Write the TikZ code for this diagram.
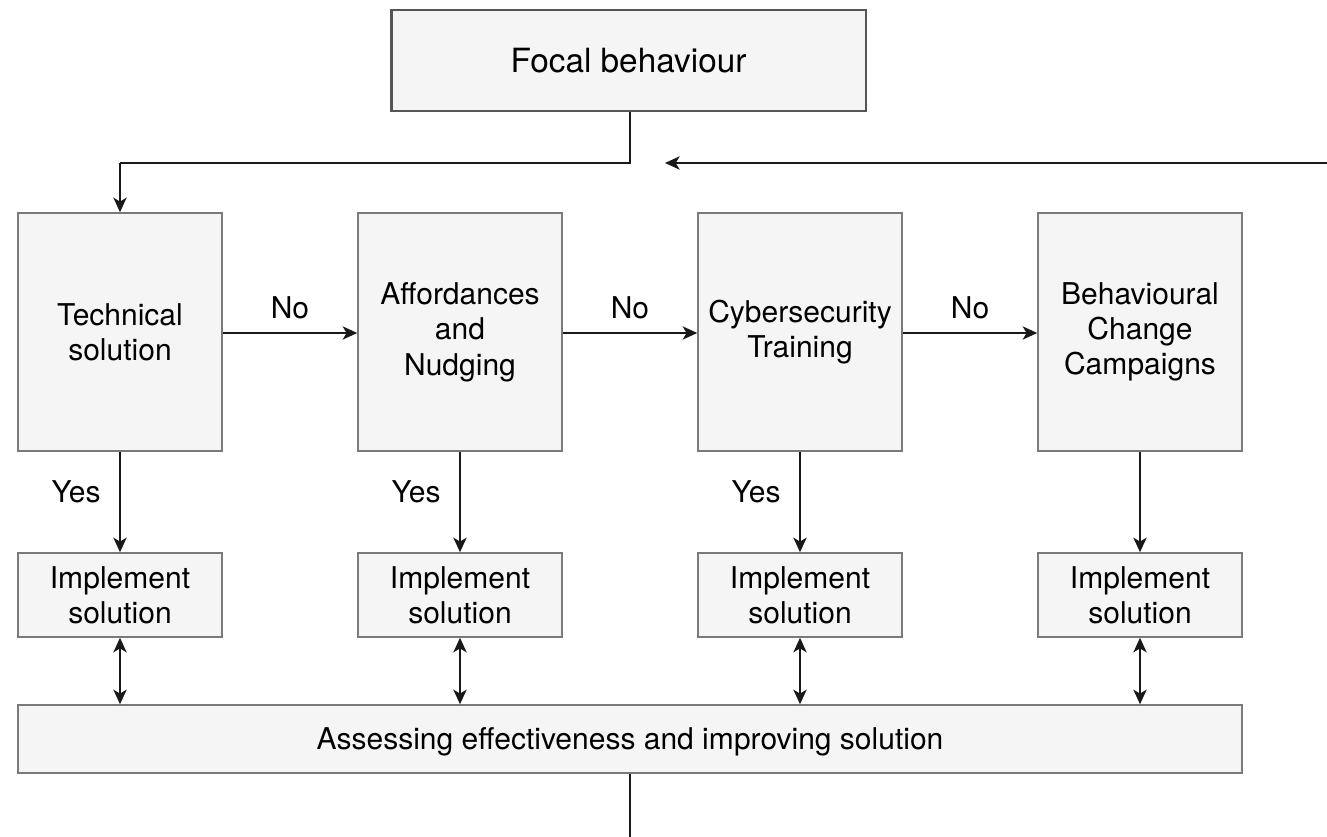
\documentclass[tikz,border=0pt]{standalone}
\usepackage{fontspec}
\setmainfont{TeX Gyre Heros}
\usetikzlibrary{arrows.meta}
\definecolor{boxfill}{HTML}{F5F5F5}
\definecolor{boxline}{HTML}{7A7A7A}
\definecolor{focline}{HTML}{555555}
\begin{document}
\begin{tikzpicture}[x=0.75pt,y=-0.75pt,
  box/.style={draw=boxline,fill=boxfill,line width=1.1pt,inner sep=0pt,align=center,
    text=black,font=\fontsize{22.5}{26.5}\selectfont},
  bigbox/.style={box,minimum width=153pt,minimum height=178.5pt},
  implbox/.style={box,minimum width=153pt,minimum height=63pt},
  conn/.style={line width=1.1pt,draw=black!90},
  tip/.tip={Stealth[length=11pt,width=10pt,inset=3pt]},
  arr/.style={conn,-tip},
  darr/.style={conn,tip-tip},
  lbl/.style={font=\fontsize{22.5}{26.5}\selectfont,inner sep=0pt,text=black}]
\useasboundingbox (0,0) rectangle (1327,837);
\node[box,draw=focline,line width=2pt,minimum width=356pt,minimum height=75.75pt,
  text height=18pt,text depth=0pt,
  font=\fontsize{25}{30}\selectfont] (focal) at (628.5,60.5) {Focal behaviour};

\node[bigbox] (tech) at (120,332) {Technical\\solution};
\node[bigbox] (aff) at (460,332) {Affordances\\and\\Nudging};
\node[bigbox] (cyb) at (800,332) {Cybersecurity\\Training};
\node[bigbox] (beh) at (1140,332) {Behavioural\\Change\\Campaigns};

\node[implbox] (i1) at (120,595) {Implement\\solution};
\node[implbox] (i2) at (460,595) {Implement\\solution};
\node[implbox] (i3) at (800,595) {Implement\\solution};
\node[implbox] (i4) at (1140,595) {Implement\\solution};

\node[box,minimum width=918pt,minimum height=51pt,text height=16pt,text depth=0pt] (assess) at (630,739)
  {Assessing effectiveness and improving solution};

\coordinate (corner) at (630,163);
\coordinate (rightin) at (1327,163);
\coordinate (rightend) at (665,163);
\coordinate (bottomend) at (630,837);

\draw[conn] (focal.south -| corner) -- (corner) -- (corner -| tech.north);
\draw[arr] (corner -| tech.north) -- (tech.north);
\draw[arr] (rightin) -- (rightend);

\draw[arr] (tech.east |- 0,333) -- (aff.west |- 0,333) node[lbl,midway,above=10pt] {No};
\draw[arr] (aff.east |- 0,333) -- (cyb.west |- 0,333) node[lbl,midway,above=10pt] {No};
\draw[arr] (cyb.east |- 0,333) -- (beh.west |- 0,333) node[lbl,midway,above=10pt] {No};

\draw[arr] (tech.south) -- (i1.north) node[lbl,pos=0.4,left=14pt] {Yes};
\draw[arr] (aff.south) -- (i2.north) node[lbl,pos=0.4,left=14pt] {Yes};
\draw[arr] (cyb.south) -- (i3.north) node[lbl,pos=0.4,left=14pt] {Yes};
\draw[arr] (beh.south) -- (i4.north);

\draw[darr] (i1.south) -- (i1.south |- assess.north);
\draw[darr] (i2.south) -- (i2.south |- assess.north);
\draw[darr] (i3.south) -- (i3.south |- assess.north);
\draw[darr] (i4.south) -- (i4.south |- assess.north);

\draw[conn] (assess.south -| bottomend) -- (bottomend);
\end{tikzpicture}
\end{document}
